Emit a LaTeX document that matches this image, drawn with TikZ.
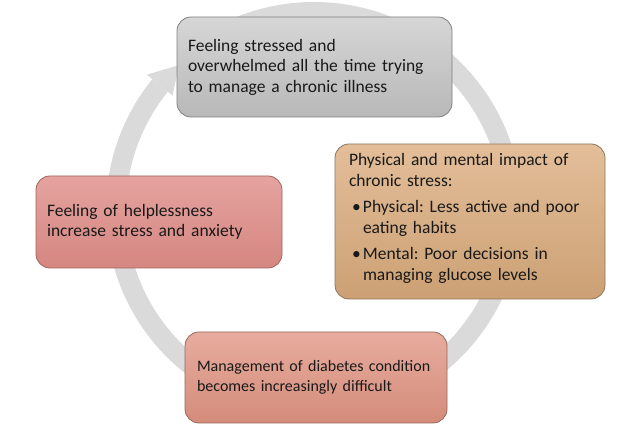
\documentclass[tikz,border=0pt]{standalone}
\usepackage{fontspec}
\setmainfont{Carlito}
\frenchspacing
\definecolor{ringgray}{RGB}{218,218,218}
\definecolor{txt}{RGB}{25,25,25}
\begin{document}
\begin{tikzpicture}[x=1pt,y=1pt,
  box/.style={rounded corners=14pt, align=left, text=txt, inner xsep=11pt,
    inner ysep=0pt, font=\fontsize{17.5}{20.5}\selectfont, line width=0.8pt},
  grayfill/.style={top color={rgb,255:red,214;green,214;blue,214}, bottom color={rgb,255:red,184;green,184;blue,184}, draw={rgb,255:red,128;green,128;blue,128}},
  tanfill/.style={top color={rgb,255:red,227;green,190;blue,153}, bottom color={rgb,255:red,204;green,160;blue,116}, draw={rgb,255:red,140;green,118;blue,92}},
  pinkfill/.style={top color={rgb,255:red,229;green,163;blue,159}, bottom color={rgb,255:red,213;green,134;blue,129}, draw={rgb,255:red,160;green,100;blue,96}},
  salmonfill/.style={top color={rgb,255:red,231;green,172;blue,158}, bottom color={rgb,255:red,212;green,140;blue,122}, draw={rgb,255:red,150;green,105;blue,92}}]
\useasboundingbox (0,0) rectangle (640,443);
\fill[white] (0,0) rectangle (640,443);
% ring
\coordinate (c) at (314,233);
\draw[ringgray, line width=20pt] ([shift={(-219:198)}]c) arc[start angle=-219, end angle=120, radius=198];
\fill[ringgray] ([shift={(141:182)}]c) -- ([shift={(141:215)}]c) -- ([shift={(133:198)}]c) -- cycle;
% boxes
\node[box, grayfill, text width=253pt, minimum height=100pt] (top) at (314.5,376)
  {Feeling stressed and\\overwhelmed all the time trying\\to manage a chronic illness\rule[-3pt]{0pt}{0pt}};
\node[box, tanfill, inner xsep=14pt, text width=242pt, minimum height=155pt] (right) at (470,221.5)
  {Physical and mental impact of\\chronic stress:\\[6pt]
   \hspace*{3pt}\makebox[11pt][l]{\textbullet}Physical: Less active and poor\\
   \hspace*{14pt}eating habits\\[6pt]
   \hspace*{3pt}\makebox[11pt][l]{\textbullet}Mental: Poor decisions in\\
   \hspace*{14pt}managing glucose levels\rule[-9pt]{0pt}{0pt}};
\node[box, pinkfill, text width=224pt, minimum height=92pt] (left) at (159,221)
  {Feeling of helplessness\\increase stress and anxiety};
\node[box, salmonfill, inner xsep=12pt, text width=238pt, minimum height=91pt, font=\fontsize{16}{19.5}\selectfont] (bottom) at (316,65.5)
  {Management of diabetes condition\\becomes increasingly difficult};
\end{tikzpicture}
\end{document}
